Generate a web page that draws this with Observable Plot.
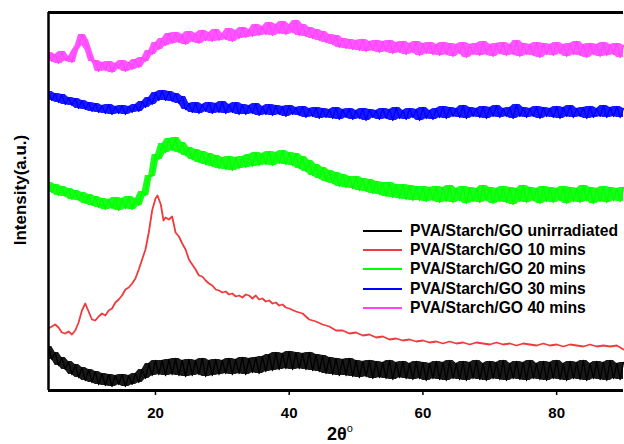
<!DOCTYPE html>
<html>
<head>
<meta charset="utf-8">
<script src="https://cdn.jsdelivr.net/npm/d3@7"></script>
<script src="https://cdn.jsdelivr.net/npm/@observablehq/plot@0.6"></script>
<style>
  html, body { margin: 0; padding: 0; background: #fff; }
  #wrap { position: relative; width: 624px; height: 444px; overflow: hidden; font-family: "Liberation Sans", Arial, sans-serif; font-weight: bold; }
  .ylab { position: absolute; left: 20px; top: 190px; transform: translate(-50%, -50%) rotate(-90deg); font-size: 17px; line-height: 1; white-space: nowrap; }
  .xlab { position: absolute; left: 340px; top: 434px; transform: translate(-50%, -50%); font-size: 18px; line-height: 1; white-space: nowrap; }
  .xlab sup { font-size: 11px; line-height: 0; vertical-align: 8px; font-weight: normal; }
  .legend { position: absolute; left: 363px; top: 221px; }
  .legend .row { display: flex; align-items: center; height: 19.3px; font-size: 15.7px; white-space: nowrap; }
  .legend svg { margin-right: 8px; }
</style>
</head>
<body>
<div id="wrap"></div>
<script>
// 2θ grid for the noisy scans: starts at 4°, step 0.5°
const thetaStart = 4;
const thetaStep = 0.5;

const seriesNames = [
  "PVA/Starch/GO unirradiated",
  "PVA/Starch/GO 10 mins",
  "PVA/Starch/GO 20 mins",
  "PVA/Starch/GO 30 mins",
  "PVA/Starch/GO 40 mins"
];
const seriesColors = ["#000000", "#ee3b3b", "#00ff00", "#0000ff", "#ff44ff"];
const xTicks = [20, 40, 60, 80];

// Intensity (a.u., stacked offsets as in figure), θ = 4, 4.5, ... 90
const unirradiated = [
  44,31,38,25,33,21,29,16,26,13,
  23,10,21,8,19,6,17,5,16,4,
  15,6,16,4,15,6,17,8,21,12,
  27,15,30,16,30,15,31,16,32,15,
  30,14,31,15,30,16,32,14,30,15,
  31,16,30,17,32,16,31,17,33,16,
  32,18,33,17,34,19,36,20,38,21,
  37,22,39,21,38,22,37,21,38,20,
  36,19,35,17,33,16,32,15,31,15,
  32,14,30,13,29,14,30,12,29,13,
  28,12,30,11,28,13,29,12,27,11,
  29,12,28,10,27,12,29,11,28,10,
  30,12,27,11,29,10,28,12,30,11,
  27,10,29,12,28,11,30,10,27,12,
  29,11,28,10,30,12,27,11,29,10,
  28,12,30,11,27,10,29,12,28,11,
  30,10,27,12,29,11,28,10,30,12,
  27,11,28
];

// 10 mins scan: [θ, intensity]
const mins10 = [
  [4,62],[4.5,64],[5,66],[5.5,63],[6,58],[6.5,57],[7,59],[7.5,56],[8,60],[8.5,68],
  [9,80],[9.5,87],[10,79],[10.5,71],[11,70],[11.5,74],[12,77],[12.5,75],[13,80],[13.5,82],
  [14,88],[14.5,91],[15,95],[15.5,101],[16,103],[16.5,107],[17,112],[17.5,121],[18,131],[18.5,141],
  [19,158],[19.5,180],[20,192],[20.3,195],[20.8,186],[21.2,170],[21.5,173],[22,171],[22.5,174],[23,158],
  [23.5,154],[24,147],[24.5,141],[25,131],[25.5,126],[26,121],[26.5,115],[27,114],[27.5,110],[28,107],
  [28.5,105],[29,101],[29.5,100],[30,98],[30.5,99],[31,96],[31.5,97],[32,94],[32.5,95],[33,93],
  [33.5,96],[34,95],[34.5,92],[35,95],[35.5,91],[36,92],[36.5,89],[37,90],[37.5,87],[38,88],
  [38.5,85],[39,86],[39.5,83],[40,82],[41,79],[42,77],[43,71],[44,69],[45,66],[46,64],
  [47,60],[48,60],[49,57],[50,58],[51,55],[52,56],[53,53],[54,54],[55,51],[56,52],
  [57,50],[58,51],[59,49],[60,50],[61,48],[62,49],[63,47],[64,49],[65,47],[66,48],
  [67,46],[68,48],[69,47],[70,46],[71,48],[72,46],[73,47],[74,45],[75,47],[76,46],
  [77,45],[78,47],[79,45],[80,46],[81,44],[82,46],[83,45],[84,44],[85,46],[86,44],
  [87,45],[88,44],[89,45],[89.5,43],[90,41]
];

const mins20 = [
  208,198,206,195,204,194,202,191,200,190,
  198,187,196,185,194,183,192,181,191,182,
  193,180,192,182,194,181,192,185,199,195,
  215,214,236,231,247,238,252,240,253,238,
  248,235,243,231,241,228,239,226,237,224,
  235,222,233,221,234,220,233,222,234,223,
  236,224,238,225,237,226,239,225,238,227,
  240,226,238,225,237,222,234,219,230,215,
  226,212,223,209,220,207,218,204,216,203,
  214,202,214,200,212,199,211,197,209,196,
  208,194,208,193,206,192,206,191,205,190,
  204,190,204,189,203,190,204,188,203,189,
  205,188,202,190,204,187,203,189,202,188,
  205,190,203,187,202,189,204,188,203,186,
  202,189,205,188,203,190,202,187,204,189,
  203,188,202,190,204,187,203,189,202,188,
  205,190,203,187,202,189,204,188,203,190,
  202,189,203
];

const mins30 = [
  299,290,297,288,296,286,293,285,292,282,
  290,281,288,279,287,278,285,277,286,276,
  284,277,285,276,284,278,286,279,289,283,
  293,286,298,290,300,290,299,289,297,287,
  294,281,287,278,288,277,286,279,288,277,
  287,278,289,277,286,278,288,276,286,276,
  285,277,287,275,284,276,286,275,285,276,
  284,274,285,276,283,275,284,273,282,274,
  283,272,282,273,281,272,283,271,281,273,
  282,271,280,272,282,270,281,273,280,271,
  282,272,281,270,283,272,280,271,282,273,
  281,270,283,272,280,271,282,273,284,272,
  283,274,282,273,285,272,283,274,282,273,
  284,272,283,274,285,273,282,274,283,272,
  286,274,283,273,282,274,284,272,283,274,
  282,273,284,272,283,274,285,273,282,274,
  283,272,284,273,282,274,285,273,283,274,
  284,273,282
];

const mins40 = [
  338,329,336,327,339,330,334,328,340,345,
  356,350,340,329,330,319,328,320,329,318,
  327,322,330,319,328,321,331,323,333,329,
  340,336,348,341,352,345,357,347,358,348,
  356,346,359,349,357,347,360,350,358,349,
  361,350,357,351,362,349,360,352,363,353,
  361,354,366,355,364,356,368,355,366,357,
  369,356,366,358,370,355,366,354,363,352,
  361,350,359,348,356,346,355,343,352,342,
  351,341,350,340,351,339,349,340,350,338,
  349,339,350,337,348,338,349,336,347,338,
  349,335,347,337,348,336,346,335,348,336,
  347,334,346,337,348,333,346,336,347,335,
  349,336,346,334,347,337,348,335,346,336,
  350,334,347,336,346,335,348,333,347,336,
  346,335,348,337,346,334,347,336,349,335,
  346,333,347,336,346,334,348,335,346,336,
  347,333,345
];

const toRows = (vals) => vals.map((v, i) => ({theta: thetaStart + i * thetaStep, v}));
const series = [
  toRows(unirradiated),
  mins10.map(([theta, v]) => ({theta, v})),
  toRows(mins20),
  toRows(mins30),
  toRows(mins40)
];
const noisy = [true, false, true, true, true];

const lineMarks = [];
series.forEach((d, k) => {
  if (noisy[k]) {
    // fill the band swept by the dense noise (running min/max of neighbouring readings)
    lineMarks.push(Plot.areaY(d, Plot.map(
      {y1: Plot.window({k: 3, reduce: "min"}), y2: Plot.window({k: 3, reduce: "max"})},
      {x: "theta", y1: "v", y2: "v", fill: seriesColors[k], fillOpacity: 0.9}
    )));
    lineMarks.push(Plot.line(d, {x: "theta", y: "v", stroke: seriesColors[k], strokeWidth: 1.3}));
  } else {
    lineMarks.push(Plot.line(d, {x: "theta", y: "v", stroke: seriesColors[k], strokeWidth: 1.8}));
  }
});

const chart = Plot.plot({
  width: 624,
  height: 444,
  marginLeft: 48,
  marginRight: 1,
  marginTop: 12,
  marginBottom: 54,
  style: {fontFamily: "'Liberation Sans', Arial, sans-serif", fontWeight: "bold", fontSize: "15px", background: "#fff", color: "#000"},
  x: {domain: [4, 90]},
  y: {domain: [0, 378], axis: null},
  marks: [
    ...lineMarks,
    Plot.axisX({ticks: xTicks, tickSize: 5, tickPadding: 12, label: null, fontSize: 15, fontWeight: "bold", strokeWidth: 1.5}),
    Plot.ruleY([0], {strokeWidth: 3}),
    Plot.ruleY([378], {strokeWidth: 3}),
    Plot.ruleX([4], {strokeWidth: 2.5})
  ]
});

const wrap = document.getElementById("wrap");
wrap.appendChild(chart);

const ylab = document.createElement("div");
ylab.className = "ylab";
ylab.textContent = "Intensity(a.u.)";
wrap.appendChild(ylab);

const xlab = document.createElement("div");
xlab.className = "xlab";
xlab.innerHTML = "2θ<sup>o</sup>";
wrap.appendChild(xlab);

const legend = document.createElement("div");
legend.className = "legend";
seriesNames.forEach((name, k) => {
  const row = document.createElement("div");
  row.className = "row";
  row.innerHTML = `<svg width="39" height="4"><line x1="0" y1="2" x2="39" y2="2" stroke="${seriesColors[k]}" stroke-width="2"/></svg><span>${name}</span>`;
  legend.appendChild(row);
});
wrap.appendChild(legend);
</script>
</body>
</html>
